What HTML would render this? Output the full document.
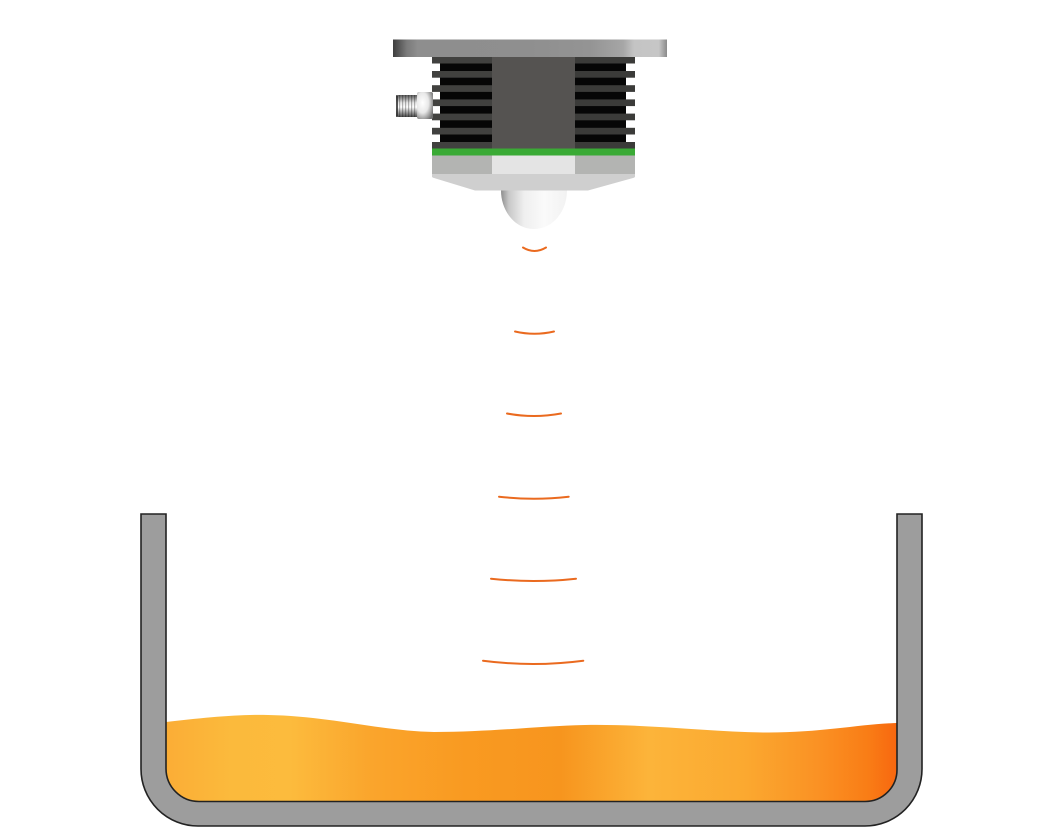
<!DOCTYPE html>
<html>
<head>
<meta charset="utf-8">
<style>
  html, body { margin: 0; padding: 0; background: #ffffff; }
  body { width: 1063px; height: 827px; overflow: hidden; }
  svg { display: block; }
</style>
</head>
<body>
<svg width="1063" height="827" viewBox="0 0 1063 827" xmlns="http://www.w3.org/2000/svg">
  <defs>
    <linearGradient id="plate" x1="0" y1="0" x2="1" y2="0">
      <stop offset="0" stop-color="#3e3e3e"/>
      <stop offset="0.02" stop-color="#555555"/>
      <stop offset="0.05" stop-color="#7a7a7a"/>
      <stop offset="0.09" stop-color="#8e8e8e"/>
      <stop offset="0.5" stop-color="#8f8f8f"/>
      <stop offset="0.72" stop-color="#949494"/>
      <stop offset="0.84" stop-color="#a6a6a6"/>
      <stop offset="0.88" stop-color="#c4c4c4"/>
      <stop offset="0.97" stop-color="#c6c6c6"/>
      <stop offset="1" stop-color="#8a8a8a"/>
    </linearGradient>
    <linearGradient id="liquid" x1="166" y1="0" x2="897" y2="0" gradientUnits="userSpaceOnUse">
      <stop offset="0" stop-color="#fbad36"/>
      <stop offset="0.09" stop-color="#fbba3c"/>
      <stop offset="0.17" stop-color="#fcbb3d"/>
      <stop offset="0.28" stop-color="#faa52c"/>
      <stop offset="0.41" stop-color="#f99a21"/>
      <stop offset="0.54" stop-color="#f7951e"/>
      <stop offset="0.66" stop-color="#fcb43a"/>
      <stop offset="0.79" stop-color="#fba930"/>
      <stop offset="0.89" stop-color="#fa9224"/>
      <stop offset="0.96" stop-color="#f97d16"/>
      <stop offset="1" stop-color="#f8670f"/>
    </linearGradient>
    <linearGradient id="dome" x1="0" y1="0" x2="1" y2="0">
      <stop offset="0" stop-color="#8e8e8e"/>
      <stop offset="0.12" stop-color="#c8c8c8"/>
      <stop offset="0.35" stop-color="#efefef"/>
      <stop offset="0.65" stop-color="#fafafa"/>
      <stop offset="1" stop-color="#f2f2f2"/>
    </linearGradient>
    <linearGradient id="thread" x1="0" y1="0" x2="0" y2="1">
      <stop offset="0" stop-color="#5a5a5a"/>
      <stop offset="0.35" stop-color="#e6e6e6"/>
      <stop offset="0.55" stop-color="#ffffff"/>
      <stop offset="1" stop-color="#4a4a4a"/>
    </linearGradient>
    <radialGradient id="nut" cx="0.35" cy="0.4" r="0.75">
      <stop offset="0" stop-color="#ffffff"/>
      <stop offset="0.5" stop-color="#e8e8e8"/>
      <stop offset="1" stop-color="#6e6e6e"/>
    </radialGradient>
  </defs>

  <!-- liquid -->
  <path d="M166,722 C200,718 240,714 268,715 C330,716 380,731 434,732 C490,732 540,726 585,725 C650,724 710,732 764,732.5 C820,733 860,724 897,723 L897,769 A32,32 0 0 1 865,801 L199,801 A33,33 0 0 1 166,768 Z" fill="url(#liquid)"/>

  <!-- tank -->
  <path d="M141,514 L141,769 A57,57 0 0 0 198,826 L865,826 A57,57 0 0 0 922,769 L922,514 L897,514 L897,769 A32,32 0 0 1 865,801.5 L199,801.5 A33,33 0 0 1 166,768.5 L166,514 Z" fill="#9d9d9d" stroke="#222222" stroke-width="1.6" stroke-linejoin="miter"/>

  <!-- sound waves -->
  <g fill="none" stroke="#ea6a1f" stroke-width="2" stroke-linecap="round">
    <path d="M523,247.5 Q534.5,254.5 546,247.5"/>
    <path d="M515,331.5 Q534.5,336 554,331.5"/>
    <path d="M507,413.5 Q534,418.5 561,413.5"/>
    <path d="M499,496.7 Q534,500.7 568.7,496.7"/>
    <path d="M491,578.7 Q533.5,583.3 576,578.7"/>
    <path d="M483,660.7 Q533,667.3 583.3,660.7"/>
  </g>

  <!-- sensor: top plate -->
  <rect x="393" y="39.5" width="274" height="17.5" fill="url(#plate)"/>

  <!-- heat sink body -->
  <rect x="432" y="57" width="60" height="92" fill="#41413f"/>
  <rect x="492" y="57" width="83" height="92" fill="#555351"/>
  <rect x="575" y="57" width="60" height="92" fill="#3b3b39"/>
  <g>
    <rect x="440" y="63.5" width="52" height="7.5" fill="#060606"/>
    <rect x="440" y="77.7" width="52" height="7.5" fill="#060606"/>
    <rect x="440" y="91.9" width="52" height="7.5" fill="#060606"/>
    <rect x="440" y="106.1" width="52" height="7.5" fill="#060606"/>
    <rect x="440" y="120.3" width="52" height="7.5" fill="#060606"/>
    <rect x="440" y="134.5" width="52" height="7.5" fill="#060606"/>
    <rect x="575" y="63.5" width="51" height="7.5" fill="#060606"/>
    <rect x="575" y="77.7" width="51" height="7.5" fill="#060606"/>
    <rect x="575" y="91.9" width="51" height="7.5" fill="#060606"/>
    <rect x="575" y="106.1" width="51" height="7.5" fill="#060606"/>
    <rect x="575" y="120.3" width="51" height="7.5" fill="#060606"/>
    <rect x="575" y="134.5" width="51" height="7.5" fill="#060606"/>
  </g>
  <g fill="#ffffff">
    <rect x="431" y="63.5" width="9" height="7.5"/>
    <rect x="431" y="77.7" width="9" height="7.5"/>
    <rect x="431" y="91.9" width="9" height="7.5"/>
    <rect x="431" y="106.1" width="9" height="7.5"/>
    <rect x="431" y="120.3" width="9" height="7.5"/>
    <rect x="431" y="134.5" width="9" height="7.5"/>
    <rect x="626" y="63.5" width="10" height="7.5"/>
    <rect x="626" y="77.7" width="10" height="7.5"/>
    <rect x="626" y="91.9" width="10" height="7.5"/>
    <rect x="626" y="106.1" width="10" height="7.5"/>
    <rect x="626" y="120.3" width="10" height="7.5"/>
    <rect x="626" y="134.5" width="10" height="7.5"/>
  </g>

  <!-- green band -->
  <rect x="432" y="148.5" width="203" height="7" fill="#3aaa35"/>
  <!-- light band -->
  <rect x="432" y="155.5" width="203" height="18.5" fill="#b3b4b2"/>
  <rect x="492" y="155.5" width="83" height="18.5" fill="#e4e4e4"/>
  <!-- trapezoid -->
  <path d="M432,174 L635,174 L635,176.5 Q635,177.5 633,178 L588,190.5 L475,190.5 L434,178 Q432,177.5 432,176.5 Z" fill="#cfcfcf"/>
  <!-- dome -->
  <path d="M501,190.5 C501,211 515,229 534,229 C553,229 567,211 567,190.5 Z" fill="url(#dome)"/>

  <!-- connector -->
  <rect x="396" y="95" width="22" height="22" fill="url(#thread)"/>
  <g fill="#000000" opacity="0.28">
    <rect x="399" y="95" width="1.2" height="22"/>
    <rect x="402" y="95" width="1.2" height="22"/>
    <rect x="405" y="95" width="1.2" height="22"/>
    <rect x="408" y="95" width="1.2" height="22"/>
    <rect x="411" y="95" width="1.2" height="22"/>
    <rect x="414" y="95" width="1.2" height="22"/>
  </g>
  <rect x="396" y="96" width="2" height="20" fill="#2a2a2a" opacity="0.8"/>
  <rect x="417" y="92" width="16" height="27" rx="2" fill="url(#nut)"/>
</svg>
</body>
</html>
